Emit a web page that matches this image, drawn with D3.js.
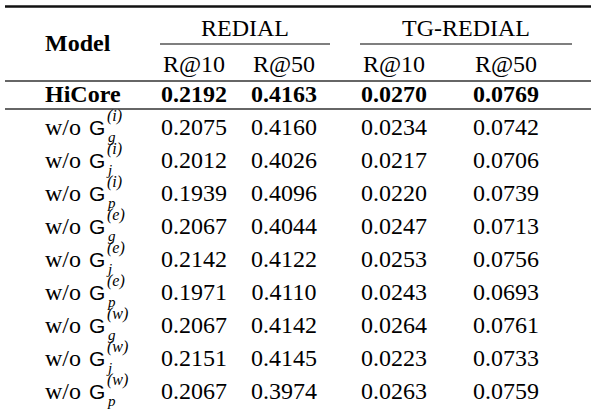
<!DOCTYPE html>
<html>
<head>
<meta charset="utf-8">
<script src="https://cdn.jsdelivr.net/npm/d3@7"></script>
<style>
  body { margin: 0; background: #fff; }
</style>
</head>
<body>
<svg></svg>
<script>
const width = 595;
const height = 414;

const datasets = ["REDIAL", "TG-REDIAL"];
const metrics = ["R@10", "R@50"];
const models = ["HiCore", "gi", "ji", "pi", "ge", "je", "pe", "gw", "jw", "pw"];
const subscripts = { gi: "g", ji: "j", pi: "p", ge: "g", je: "j", pe: "p", gw: "g", jw: "j", pw: "p" };
const superscripts = { gi: "i", ji: "i", pi: "i", ge: "e", je: "e", pe: "e", gw: "w", jw: "w", pw: "w" };

const redialR10 = ["0.2192", "0.2075", "0.2012", "0.1939", "0.2067", "0.2142", "0.1971", "0.2067", "0.2151", "0.2067"];
const redialR50 = ["0.4163", "0.4160", "0.4026", "0.4096", "0.4044", "0.4122", "0.4110", "0.4142", "0.4145", "0.3974"];
const tgR10 = ["0.0270", "0.0234", "0.0217", "0.0220", "0.0247", "0.0253", "0.0243", "0.0264", "0.0223", "0.0263"];
const tgR50 = ["0.0769", "0.0742", "0.0706", "0.0739", "0.0713", "0.0756", "0.0693", "0.0761", "0.0733", "0.0759"];

const columns = [redialR10, redialR50, tgR10, tgR50];

const serif = '"Liberation Serif", "Times New Roman", serif';
const sans = '"Liberation Sans", Arial, sans-serif';

const svg = d3.select("svg")
  .attr("width", width)
  .attr("height", height)
  .style("font-family", serif);

// column centers for the four number columns
const x = d3.scaleOrdinal()
  .domain([0, 1, 2, 3])
  .range([194, 284, 394, 506]);

// group spans (cmidrules)
const group = d3.scaleOrdinal()
  .domain(datasets)
  .range([[160, 330], [360, 572]]);

// row baselines
const y = d3.scalePoint()
  .domain(models)
  .range([102, 399]);

const left = 45;

// rules
const rules = [
  { y: 6.5, w: 2.6, x1: 5, x2: 591, c: "#111" },
  { y: 81, w: 1.5, x1: 5, x2: 591, c: "#333" },
  { y: 109, w: 1.5, x1: 5, x2: 591, c: "#333" }
];
svg.selectAll("line.rule")
  .data(rules)
  .enter()
  .append("line")
  .attr("class", "rule")
  .attr("x1", d => d.x1)
  .attr("x2", d => d.x2)
  .attr("y1", d => d.y)
  .attr("y2", d => d.y)
  .attr("stroke", d => d.c)
  .attr("stroke-width", d => d.w);

svg.selectAll("line.cmid")
  .data(datasets)
  .enter()
  .append("line")
  .attr("class", "cmid")
  .attr("x1", d => group(d)[0])
  .attr("x2", d => group(d)[1])
  .attr("y1", 44)
  .attr("y2", 44)
  .attr("stroke", "#555")
  .attr("stroke-width", 1.3);

// header
svg.append("text")
  .attr("x", left)
  .attr("y", 51)
  .style("font-size", "24px")
  .style("font-weight", "bold")
  .text("Model");

svg.selectAll("text.dataset")
  .data(datasets)
  .enter()
  .append("text")
  .attr("class", "dataset")
  .attr("x", d => (group(d)[0] + group(d)[1]) / 2)
  .attr("y", 36)
  .attr("text-anchor", "middle")
  .style("font-size", "24px")
  .text(d => d);

svg.selectAll("text.metric")
  .data(d3.range(4))
  .enter()
  .append("text")
  .attr("class", "metric")
  .attr("x", d => x(d))
  .attr("y", 72)
  .attr("text-anchor", "middle")
  .style("font-size", "24px")
  .text(d => metrics[d % 2]);

// row labels
const rows = svg.selectAll("g.row")
  .data(models)
  .enter()
  .append("g")
  .attr("class", "row")
  .attr("transform", d => `translate(0,${y(d)})`);

rows.filter(d => d === "HiCore")
  .append("text")
  .attr("x", left)
  .style("font-size", "24px")
  .style("font-weight", "bold")
  .text("HiCore");

const ablations = rows.filter(d => d !== "HiCore");

ablations.append("text")
  .attr("x", left)
  .style("font-size", "24px")
  .text("w/o");

ablations.append("text")
  .attr("x", 89)
  .style("font-family", sans)
  .style("font-size", "21px")
  .text("G");

ablations.append("text")
  .attr("x", 107)
  .attr("y", -14)
  .style("font-size", "16px")
  .style("font-style", "italic")
  .text(d => `(${superscripts[d]})`);

ablations.append("text")
  .attr("x", 108)
  .attr("y", 7)
  .style("font-size", "15px")
  .style("font-style", "italic")
  .text(d => subscripts[d]);

// numbers
columns.forEach((col, ci) => {
  rows.append("text")
    .attr("x", x(ci))
    .attr("text-anchor", "middle")
    .style("font-size", "24px")
    .style("font-weight", d => d === "HiCore" ? "bold" : "normal")
    .text((d, i) => col[i]);
});
</script>
</body>
</html>
